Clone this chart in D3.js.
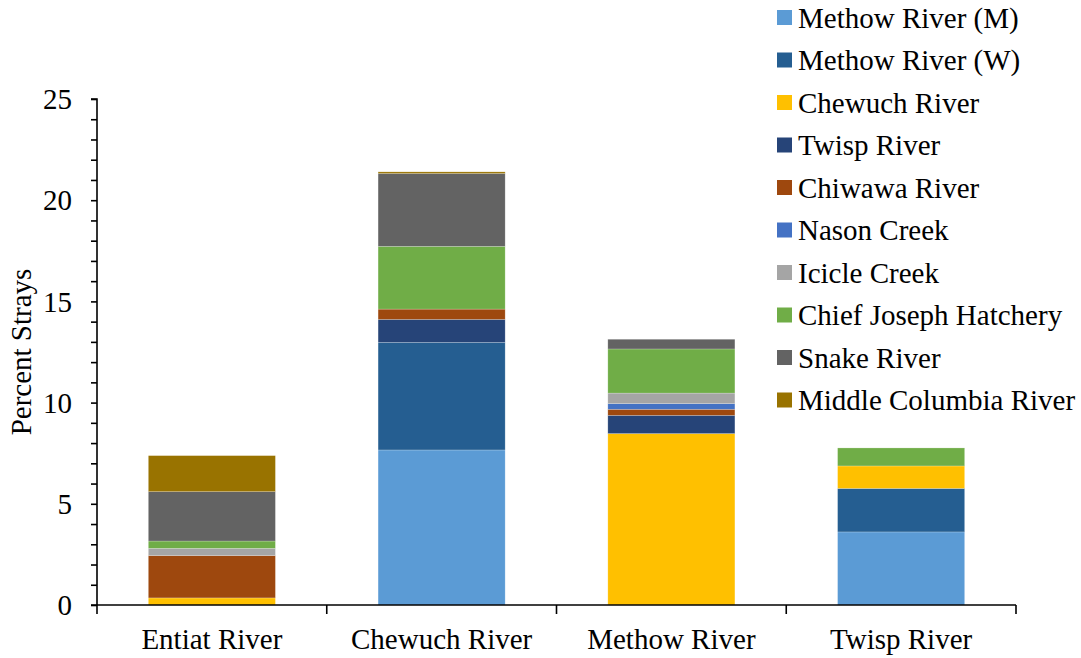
<!DOCTYPE html>
<html>
<head>
<meta charset="utf-8">
<script src="https://cdn.jsdelivr.net/npm/d3@7"></script>
<style>
  body { margin: 0; background: #fff; }
  text { font-family: "Liberation Serif", serif; fill: #000; }
</style>
</head>
<body>
<div id="chart"></div>
<script>
// sites (x categories)
const sites = ["Entiat River", "Chewuch River", "Methow River", "Twisp River"];

// origin of strays (stack order, bottom to top)
const origins = ["Methow River (M)", "Methow River (W)", "Chewuch River", "Twisp River",
  "Chiwawa River", "Nason Creek", "Icicle Creek", "Chief Joseph Hatchery",
  "Snake River", "Middle Columbia River"];

// percent strays per origin, one value per site
const methowM   = [0,    7.66, 0,    3.61];
const methowW   = [0,    5.32, 0,    2.15];
const chewuch   = [0.35, 0,    8.47, 1.11];
const twisp     = [0,    1.13, 0.90, 0];
const chiwawa   = [2.09, 0.51, 0.30, 0];
const nason     = [0,    0,    0.28, 0];
const icicle    = [0.36, 0,    0.52, 0];
const chiefJoe  = [0.36, 3.10, 2.18, 0.89];
const snake     = [2.44, 3.60, 0.48, 0];
const midColumbia = [1.78, 0.08, 0,  0];

const yTicks = [0, 5, 10, 15, 20, 25];

const colors = ["#5B9BD5", "#255E91", "#FFC000", "#264478", "#9E480E",
  "#4472C4", "#A5A5A5", "#70AD47", "#636363", "#997300"];

const seriesVals = [methowM, methowW, chewuch, twisp, chiwawa, nason, icicle, chiefJoe, snake, midColumbia];

let table = sites.map(function(s, i){
  let row = {site: s};
  origins.forEach(function(o, k){ row[o] = seriesVals[k][i]; });
  return row;
});

const width = 1081, height = 658;
const margin = {top: 99, right: 65, bottom: 53, left: 97};
const fontSize = "29px";

let svg = d3.select("#chart").append("svg")
  .attr("width", width)
  .attr("height", height);

let xScale = d3.scaleBand()
  .domain(sites)
  .range([margin.left, width - margin.right])
  .paddingInner(0.447)
  .paddingOuter(0.2235);

let yScale = d3.scaleLinear()
  .domain([0, 25])
  .range([height - margin.bottom, margin.top]);

let stack = d3.stack().keys(origins)(table);

// bars
let layers = svg.append("g").selectAll("g")
  .data(stack)
  .enter().append("g")
  .attr("fill", function(d, i){ return colors[i]; });

layers.selectAll("rect")
  .data(function(d){ return d; })
  .enter().append("rect")
  .attr("x", function(d){ return xScale(d.data.site); })
  .attr("y", function(d){ return yScale(d[1]); })
  .attr("width", xScale.bandwidth())
  .attr("height", function(d){ return yScale(d[0]) - yScale(d[1]); })
  .attr("stroke", "rgba(255,255,255,0.35)")
  .attr("stroke-width", 0.6);

// y axis with minor ticks every 1
let yAxisG = svg.append("g")
  .attr("transform", "translate(" + margin.left + ",0)");
yAxisG.call(d3.axisLeft(yScale).tickValues(d3.range(0, 26, 1)).tickSize(6).tickFormat(""));
yAxisG.selectAll("path, line").attr("stroke", "#000").attr("stroke-width", 1.6);
yAxisG.select(".domain").attr("d", "M0," + yScale(0) + "V" + yScale(25) + "H-6");

yAxisG.selectAll(".ylabel")
  .data(yTicks)
  .enter().append("text")
  .attr("class", "ylabel")
  .attr("x", -25)
  .attr("y", function(d){ return yScale(d); })
  .attr("dy", "0.35em")
  .attr("text-anchor", "end")
  .style("font-size", fontSize)
  .text(function(d){ return d; });

// x axis, ticks on category boundaries
let x0 = margin.left, x1 = width - margin.right;
let step = xScale.step();
let xAxisG = svg.append("g");
xAxisG.append("line")
  .attr("x1", x0 - 6).attr("x2", x1)
  .attr("y1", yScale(0)).attr("y2", yScale(0))
  .attr("stroke", "#000").attr("stroke-width", 1.6);
xAxisG.selectAll(".xtick")
  .data(d3.range(0, sites.length + 1))
  .enter().append("line")
  .attr("x1", function(i){ return x0 + i * step; })
  .attr("x2", function(i){ return x0 + i * step; })
  .attr("y1", yScale(0)).attr("y2", yScale(0) + 9)
  .attr("stroke", "#000").attr("stroke-width", 1.6);
xAxisG.selectAll(".xlabel")
  .data(sites)
  .enter().append("text")
  .attr("x", function(d){ return xScale(d) + xScale.bandwidth() / 2; })
  .attr("y", yScale(0) + 44)
  .attr("text-anchor", "middle")
  .style("font-size", fontSize)
  .text(function(d){ return d; });

// y title
svg.append("text")
  .attr("transform", "translate(31," + ((yScale(0) + yScale(25)) / 2) + ") rotate(-90)")
  .attr("text-anchor", "middle")
  .style("font-size", fontSize)
  .text("Percent Strays");

// legend
let legend = svg.append("g").selectAll("g")
  .data(origins)
  .enter().append("g")
  .attr("transform", function(d, i){ return "translate(777," + (17.5 + i * 42.5) + ")"; });
legend.append("rect")
  .attr("x", 0).attr("y", -7.5)
  .attr("width", 15).attr("height", 15)
  .attr("fill", function(d, i){ return colors[i]; });
legend.append("text")
  .attr("x", 21)
  .attr("dy", "0.35em")
  .style("font-size", fontSize)
  .text(function(d){ return d; });
</script>
</body>
</html>
